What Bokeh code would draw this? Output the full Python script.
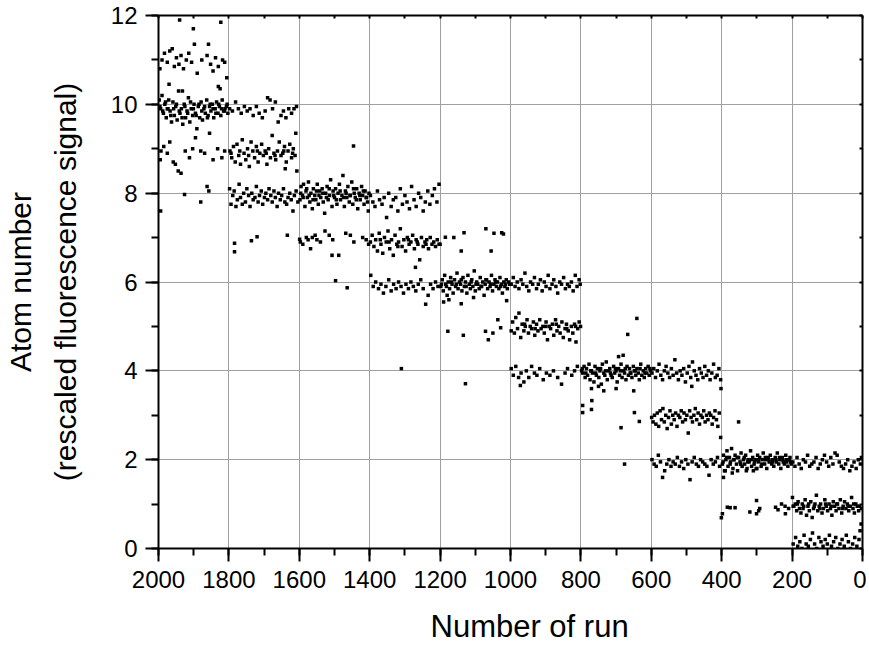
from bokeh.plotting import figure
from bokeh.models import Range1d, LinearAxis, SingleIntervalTicker, ColumnDataSource, Title
from bokeh.embed import file_html
from bokeh.resources import INLINE

# (run number, atom number), grouped by 200-run block and level
s1_main = [(1998,10.1),(1994,9.9),(1990,10.2),(1986,9.8),(1982,10.0),(1978,9.7),(1975,9.9),(1971,10.1),(1967,9.85),(1963,9.6),(1959,10.05),(1955,9.75),(1951,9.95),(1947,9.65),(1943,10.3),(1939,9.8),(1935,9.9),(1931,9.55),(1927,10.0),(1923,9.7),(1919,9.85),(1915,10.15),(1911,9.6),(1907,9.9),(1903,9.75),(1899,10.0),(1895,9.8),(1891,9.45),(1887,9.95),(1883,9.7),(1879,10.05),(1875,9.65),(1871,9.9),(1867,9.8),(1863,10.1),(1859,9.75),(1855,9.95),(1851,9.85),(1847,10.0),(1843,9.7),(1839,9.9),(1835,10.05),(1831,9.8),(1827,9.95),(1823,9.75),(1819,10.1),(1815,9.85),(1811,9.9),(1807,9.95),(1803,9.8),
           (1996,9.95),(1988,9.85),(1980,10.05),(1973,9.9),(1965,9.75),(1957,9.9),(1949,10.0),(1941,9.85),(1933,9.7),(1925,9.95),(1917,9.8),(1909,10.05),(1901,9.9),(1893,9.75),(1885,10.0),(1877,9.85),(1869,9.95),(1861,9.7),(1853,10.0),(1845,9.9),(1837,9.8),(1829,10.0),(1821,9.9),(1813,9.85),(1805,10.0)]
s1_upper = [(1996,10.8),(1990,11.0),(1983,11.15),(1975,10.95),(1968,11.2),(1961,11.25),(1955,10.85),(1949,11.05),(1942,10.9),(1936,11.1),(1929,10.8),(1921,11.0),(1914,11.15),(1906,10.95),(1898,11.35),(1890,10.7),(1877,11.0),(1862,11.1),(1852,10.9),(1845,10.75),(1838,11.05),(1830,10.85),(1818,11.0),(1812,10.95),(1806,10.6),(1940,11.9),(1901,11.7),(1823,11.85),(1858,11.35),(1970,10.45),(1932,10.3),(1830,10.4),(1825,10.35)]
s1_lower = [(1995,8.75),(1993,8.95),(1985,9.05),(1975,8.9),(1968,9.15),(1958,8.7),(1952,8.65),(1944,8.5),(1936,8.45),(1924,8.95),(1912,8.8),(1903,9.0),(1895,9.25),(1880,8.95),(1869,8.9),(1855,9.35),(1845,8.75),(1832,9.0),(1820,8.8),(1812,8.95),(1994,7.6),(1926,7.97),(1880,7.8),(1862,8.15),(1857,8.05)]

s2_top = [(1798,9.9),(1790,9.85),(1781,10.05),(1773,9.9),(1765,9.8),(1756,9.95),(1748,9.85),(1740,9.9),(1731,9.75),(1722,9.95),(1714,9.8),(1705,9.7),(1697,9.85),(1690,10.15),(1683,10.1),(1676,9.9),(1668,10.05),(1660,9.6),(1652,9.75),(1645,9.85),(1638,9.7),(1630,9.9),(1622,9.8),(1615,9.9),(1608,9.95)]
s2_mid = [(1797,8.95),(1792,8.8),(1787,9.05),(1782,8.7),(1777,9.1),(1772,8.85),(1767,8.65),(1762,9.2),(1757,8.9),(1752,8.75),(1747,9.0),(1742,8.6),(1737,9.15),(1732,8.95),(1727,8.8),(1722,9.05),(1717,8.7),(1712,8.9),(1707,9.1),(1702,8.85),(1697,8.95),(1692,8.65),(1687,9.0),(1682,8.8),(1677,9.3),(1672,8.9),(1667,8.75),(1662,8.95),(1657,9.15),(1652,8.85),(1647,8.9),(1642,9.05),(1637,8.7),(1632,8.95),(1627,9.1),(1622,8.8),(1617,9.0),(1612,8.85),(1607,8.5),(1794,8.9),(1769,8.95),(1744,8.85),(1719,8.95),(1694,8.9),(1669,8.85),(1644,8.95),(1619,8.9)]
s2_low = [(1798,8.1),(1794,7.75),(1789,7.95),(1785,8.05),(1780,7.7),(1776,7.85),(1771,8.2),(1767,7.9),(1762,7.75),(1758,8.0),(1753,7.8),(1749,8.1),(1744,7.95),(1740,7.7),(1735,8.0),(1731,7.85),(1726,7.9),(1722,8.15),(1717,7.8),(1713,7.95),(1708,8.05),(1704,7.75),(1699,7.9),(1695,8.0),(1690,7.85),(1686,8.1),(1681,7.95),(1677,7.8),(1672,8.05),(1668,7.9),(1663,7.7),(1659,8.0),(1654,7.85),(1650,7.95),(1645,8.1),(1641,7.8),(1636,7.75),(1632,7.9),(1627,8.0),(1623,7.85),(1618,7.6),(1614,7.95),(1609,8.05),(1604,7.8)]
s2_out = [(1784,6.87),(1784,6.68),(1736,6.93),(1720,7.02),(1634,7.05),(1599,6.96),(1640,8.55),(1610,9.35)]

s3_main = [(1598,7.85),(1595,8.15),(1591,7.95),(1588,8.2),(1584,7.7),(1581,8.05),(1577,7.9),(1574,8.25),(1570,7.8),(1567,8.0),(1563,7.65),(1560,8.1),(1556,7.95),(1553,7.85),(1549,8.2),(1546,7.75),(1542,8.05),(1539,7.9),(1535,8.1),(1532,7.8),(1528,7.55),(1525,8.0),(1521,8.15),(1518,7.85),(1514,7.95),(1511,8.3),(1507,7.7),(1504,8.05),(1500,7.9),(1497,8.1),(1493,7.75),(1490,8.0),(1486,8.2),(1483,7.85),(1479,7.95),(1476,8.4),(1472,7.7),(1469,8.05),(1465,7.9),(1462,8.15),(1458,7.8),(1455,7.95),(1451,8.25),(1448,7.75),(1444,8.0),(1441,7.9),(1437,8.1),(1434,7.65),(1430,8.0),(1427,7.85),(1423,8.15),(1420,7.95),(1416,7.75),(1413,8.05),(1409,7.9),(1406,7.8),(1402,8.0),
           (1596,8.0),(1589,7.9),(1579,8.1),(1572,7.95),(1561,7.85),(1551,8.05),(1544,7.95),(1533,8.0),(1523,7.9),(1515,8.1),(1502,7.95),(1495,7.85),(1484,8.05),(1474,7.9),(1467,8.0),(1456,7.95),(1446,8.1),(1438,7.85),(1428,7.95),(1418,8.05),(1410,7.9),(1404,7.6)]
s3_low = [(1597,6.9),(1590,6.85),(1580,7.0),(1575,6.95),(1568,6.75),(1563,7.0),(1555,7.05),(1550,6.95),(1540,6.9),(1527,7.15),(1515,7.05),(1505,6.95),(1488,6.6),(1468,7.1),(1455,7.05),(1445,6.9),(1420,7.0),(1410,6.95),(1403,6.85)]
s3_out = [(1446,9.06),(1507,6.6),(1497,6.03),(1464,5.87)]

s4_high = [(1398,7.95),(1391,7.8),(1385,7.7),(1378,8.05),(1372,7.85),(1365,7.75),(1359,7.9),(1352,7.45),(1346,8.0),(1339,7.7),(1333,7.85),(1326,7.9),(1320,7.6),(1313,8.1),(1307,7.75),(1300,7.95),(1294,7.8),(1287,7.65),(1281,8.15),(1274,7.85),(1268,7.7),(1261,8.0),(1255,7.9),(1248,7.6),(1242,7.8),(1235,8.05),(1229,7.75),(1222,7.95),(1216,8.1),(1209,7.8),(1203,8.2)]
s4_mid = [(1398,6.9),(1393,7.05),(1388,6.8),(1383,6.95),(1378,6.7),(1373,7.1),(1368,6.85),(1363,6.65),(1358,7.0),(1353,6.9),(1348,7.15),(1343,6.75),(1338,6.95),(1333,6.6),(1328,7.05),(1323,6.85),(1318,6.9),(1313,7.2),(1308,6.8),(1303,6.95),(1298,6.7),(1293,7.0),(1288,6.85),(1283,6.9),(1278,7.05),(1273,6.75),(1268,6.95),(1263,6.85),(1258,6.5),(1253,7.0),(1248,6.8),(1243,6.9),(1238,6.95),(1233,6.75),(1228,7.0),(1223,6.85),(1218,6.9),(1213,6.8),(1208,6.95),(1203,6.85),(1370,6.95),(1345,6.9),(1320,6.8),(1290,6.95),(1265,6.9),(1240,6.85),(1270,6.33)]
s4_low = [(1397,6.15),(1390,5.9),(1383,6.0),(1375,5.85),(1368,5.95),(1361,5.75),(1354,5.9),(1346,6.05),(1339,5.8),(1332,5.95),(1325,5.85),(1318,6.0),(1311,5.9),(1304,5.75),(1297,5.95),(1290,5.85),(1283,6.0),(1276,5.9),(1269,5.8),(1262,5.95),(1255,6.05),(1248,5.85),(1241,5.5),(1234,5.7),(1227,5.95),(1220,5.85),(1213,6.0),(1206,5.9),(1310,4.05)]

s5_main = [(1198,5.9),(1194,6.05),(1191,5.8),(1187,6.15),(1184,5.95),(1180,5.7),(1177,6.0),(1173,5.85),(1170,6.1),(1166,5.95),(1163,5.75),(1159,6.05),(1156,5.9),(1152,6.2),(1149,5.85),(1145,6.0),(1142,5.95),(1138,5.8),(1135,6.1),(1131,5.9),(1128,6.0),(1124,5.75),(1121,6.15),(1117,5.95),(1114,5.85),(1110,6.05),(1107,5.9),(1103,6.25),(1100,5.8),(1096,6.0),(1093,5.95),(1089,5.85),(1086,6.1),(1082,5.9),(1079,6.0),(1075,5.7),(1072,5.95),(1068,6.05),(1065,5.85),(1061,6.0),(1058,5.9),(1054,6.15),(1051,5.8),(1047,5.95),(1044,6.05),(1040,5.9),(1037,6.0),(1033,5.85),(1030,6.1),(1026,5.95),(1023,5.75),(1019,6.0),(1016,5.9),(1012,6.05),(1009,5.85),(1005,6.0),(1002,5.95),
           (1196,5.95),(1182,5.9),(1168,6.0),(1154,5.95),(1140,6.05),(1126,5.9),(1112,6.0),(1098,5.95),(1084,5.9),(1070,6.05),(1056,5.95),(1042,6.0),(1028,5.9),(1014,5.95),(1190,5.55),(1140,5.51),(1011,5.58),(1175,5.6),(1105,5.65)]
s5_out = [(1200,6.85),(1185,7.01),(1161,7.0),(1132,7.11),(1140,6.7),(1070,7.2),(1055,6.7),(1047,7.1),(1025,7.11),(1020,7.08),(1178,4.89),(1134,4.8),(1071,4.89),(1063,4.7),(1050,4.85),(1036,5.15),(1028,4.97),(1128,3.71)]

s6_high = [(998,5.95),(992,6.1),(987,5.9),(981,6.0),(976,5.85),(970,6.05),(965,5.95),(959,6.2),(954,5.9),(948,5.8),(943,6.0),(937,5.95),(932,6.1),(926,5.85),(921,5.95),(915,6.05),(910,5.8),(904,6.0),(899,5.9),(893,6.15),(888,5.85),(882,5.95),(877,6.05),(871,5.9),(866,5.75),(860,6.0),(855,5.95),(849,6.1),(844,5.85),(838,5.95),(833,5.9),(827,6.0),(822,5.8),(816,6.15),(811,5.9),(805,6.05),(802,5.95)]
s6_mid = [(998,4.9),(994,5.1),(989,4.85),(985,5.2),(980,4.95),(976,5.3),(971,4.75),(967,5.05),(962,4.9),(958,5.0),(953,5.15),(949,4.85),(944,5.0),(940,4.95),(935,5.1),(931,4.8),(926,5.05),(922,4.9),(917,5.15),(913,4.95),(908,5.0),(904,4.85),(899,5.1),(895,4.7),(890,5.0),(886,4.95),(881,5.05),(877,4.8),(872,5.15),(868,4.9),(863,5.0),(859,4.85),(854,5.1),(850,4.75),(845,4.95),(841,5.05),(836,4.9),(832,4.7),(827,5.0),(823,4.85),(818,5.05),(814,4.65),(809,4.95),(805,5.1),(801,5.0),
           (960,5.05),(930,4.95),(900,5.0),(870,5.05),(840,4.95),(815,5.0)]
s6_low = [(998,4.05),(992,3.9),(985,4.1),(977,3.85),(970,3.95),(962,3.75),(955,4.0),(948,3.85),(940,4.1),(932,3.95),(925,3.9),(917,4.05),(907,3.8),(898,3.95),(888,3.9),(878,4.0),(866,3.85),(855,3.7),(845,3.95),(838,4.05),(826,3.9),(818,4.0),(810,4.1),(972,3.67)]

s7_main = [(798,4.0),(795,3.95),(791,4.1),(788,3.85),(784,4.05),(781,3.9),(777,4.15),(774,3.8),(770,4.0),(767,3.95),(763,3.75),(760,4.1),(756,3.9),(753,4.05),(749,3.85),(746,4.0),(742,3.7),(739,4.15),(735,3.95),(732,3.9),(728,4.2),(725,3.8),(721,4.0),(718,4.05),(714,3.9),(711,3.85),(707,4.1),(704,3.95),(700,4.0),(697,3.75),(693,4.05),(690,3.9),(686,4.15),(683,3.85),(679,4.0),(676,3.95),(672,3.8),(669,4.1),(665,3.9),(662,4.05),(658,3.95),(655,3.85),(651,4.1),(648,4.0),(644,3.9),(641,4.05),(637,3.95),(634,3.8),(630,4.15),(627,3.9),(623,4.0),(620,3.85),(616,4.05),(613,3.95),(609,4.1),(606,3.9),(602,4.0),
           (796,4.05),(786,3.95),(772,4.0),(758,3.95),(744,4.05),(730,4.0),(716,3.95),(702,4.05),(688,4.0),(674,4.05),(660,3.95),(646,4.0),(632,4.05),(618,3.95),(604,4.05),
           (770,3.6),(750,3.65),(735,3.55),(700,3.6),(650,3.55),(680,4.35)]
s7_out = [(795,3.22),(795,3.06),(769,3.33),(770,3.13),(693,4.32),(667,4.82),(641,5.18),(686,2.72),(676,1.9),(648,3.06),(634,2.86)]

s8_high = [(598,3.95),(593,4.05),(588,3.85),(583,4.0),(578,4.15),(573,3.9),(568,3.8),(563,4.0),(558,4.1),(553,3.95),(548,3.85),(543,4.05),(538,3.9),(533,4.25),(528,3.95),(523,3.8),(518,4.0),(513,3.9),(508,4.05),(503,3.75),(498,3.95),(493,4.1),(488,3.85),(483,4.2),(478,4.0),(473,3.9),(468,3.8),(463,4.05),(458,3.95),(453,3.85),(448,4.1),(443,3.9),(438,4.0),(433,3.8),(428,3.95),(423,4.15),(418,3.85),(413,3.9),(408,4.05),(403,3.8),(402,3.6),(485,3.65)]
s8_mid = [(599,2.95),(595,2.85),(591,3.0),(587,2.8),(583,3.05),(579,2.75),(575,3.1),(571,2.9),(567,3.15),(563,2.85),(559,3.0),(555,2.7),(551,2.95),(547,3.1),(543,2.8),(539,3.0),(535,2.9),(531,3.05),(527,2.75),(523,3.0),(519,2.95),(515,3.1),(511,2.85),(507,3.05),(503,2.9),(499,3.0),(495,2.6),(491,3.1),(487,2.95),(483,2.85),(479,3.0),(475,3.15),(471,2.9),(467,3.05),(463,2.8),(459,3.0),(455,2.95),(451,3.1),(447,2.85),(443,3.0),(439,2.9),(435,3.05),(431,3.0),(427,2.8),(423,2.95),(419,3.1),(415,2.9),(411,2.75),(407,3.05),(403,2.5),(352,2.85)]
s8_low = [(598,2.0),(592,1.9),(586,1.85),(580,2.1),(574,1.95),(568,1.6),(562,1.75),(556,1.9),(550,2.0),(544,1.85),(538,1.95),(532,1.9),(526,2.05),(520,1.85),(514,1.95),(508,1.8),(502,2.0),(496,1.9),(490,1.55),(484,1.95),(478,2.05),(472,1.9),(466,1.85),(460,2.0),(454,1.95),(448,1.9),(442,1.85),(436,1.65),(430,2.0),(424,1.9),(418,1.95),(412,2.05),(406,1.85)]

s9_main = [(398,1.9),(395,2.1),(392,1.75),(388,2.0),(385,2.2),(382,1.85),(378,2.05),(375,1.95),(372,2.25),(368,1.8),(365,2.0),(362,2.1),(358,1.9),(355,1.75),(352,2.05),(348,1.95),(345,2.15),(342,1.85),(338,2.0),(335,1.9),(332,2.1),(328,1.8),(325,2.0),(322,1.95),(318,2.2),(315,1.85),(312,2.05),(308,1.9),(305,2.0),(302,1.8),(298,2.1),(295,1.95),(292,2.05),(288,1.85),(285,2.0),(282,2.15),(278,1.9),(275,2.0),(272,1.8),(268,2.05),(265,1.95),(262,2.1),(258,1.9),(255,2.0),(252,1.85),(248,2.05),(245,1.95),(242,2.15),(238,1.9),(235,2.0),(232,1.8),(228,2.05),(225,1.95),(222,1.9),(218,2.1),(215,2.0),(212,1.85),(208,2.0),(205,1.95),(202,1.9),
           (396,1.95),(386,2.05),(376,1.9),(366,2.0),(356,2.05),(346,1.9),(336,2.05),(326,1.95),(316,2.0),(306,1.95),(296,2.0),(286,1.9),(276,2.05),(266,2.0),(256,1.95),(246,2.0),(236,2.05),(226,2.0),(216,1.95),(206,2.05),
           (395,1.6),(390,1.75),(370,1.7),(330,1.75),(310,1.75),(300,1.8)]
s9_low = [(401,0.69),(398,0.78),(384,0.93),(376,0.92),(362,0.92),(320,0.82),(301,1.08),(301,0.78),(292,0.9),(295,0.85),(247,0.93),(240,0.87),(219,0.78),(220,0.95),(230,1.0),(210,0.9)]

s10_high = [(198,1.95),(192,1.85),(186,2.05),(180,1.9),(174,1.8),(168,2.0),(162,1.95),(156,2.1),(150,1.85),(144,1.9),(138,1.95),(132,2.05),(126,1.8),(120,1.9),(114,2.0),(108,2.1),(102,1.95),(96,1.85),(90,2.05),(84,1.9),(78,2.15),(72,2.1),(66,1.95),(60,1.85),(54,1.8),(48,1.9),(42,2.0),(36,1.75),(30,1.85),(24,1.95),(18,1.8),(12,2.0),(6,1.9),(3,2.05)]
s10_mid = [(199,1.15),(195,0.95),(191,1.0),(187,0.85),(183,1.05),(179,0.9),(175,0.8),(171,1.0),(167,0.95),(163,1.1),(159,0.75),(155,0.95),(151,0.85),(147,1.05),(143,0.7),(139,0.9),(135,1.0),(131,1.2),(127,0.85),(123,0.95),(119,1.0),(115,0.8),(111,0.9),(107,1.1),(103,0.95),(99,0.85),(95,1.0),(91,0.9),(87,0.75),(83,1.05),(79,0.95),(75,0.85),(71,1.0),(67,0.9),(63,1.1),(59,0.8),(55,0.95),(51,1.05),(47,0.9),(43,1.0),(39,0.85),(35,0.95),(31,1.15),(27,0.9),(23,0.8),(19,1.0),(15,0.95),(11,0.85),(7,0.4),(3,0.9),
           (197,0.95),(185,1.0),(169,0.9),(153,1.0),(137,0.95),(121,0.9),(105,1.0),(89,0.95),(73,1.0),(57,0.9),(41,0.95),(25,1.0),(9,0.95)]
s10_low = [(197,0.1),(190,0.25),(184,0.05),(178,0.15),(172,0.0),(166,0.3),(160,0.1),(154,0.05),(148,0.2),(142,0.35),(136,0.1),(130,0.0),(124,0.25),(118,0.15),(112,0.05),(106,0.2),(100,0.1),(94,0.3),(88,0.05),(82,0.15),(76,0.25),(70,0.0),(64,0.1),(58,0.2),(52,0.05),(46,0.3),(40,0.15),(34,0.0),(28,0.1),(22,0.25),(16,0.05),(10,0.2),(4,0.55)]

clusters = [s1_main, s1_upper, s1_lower, s2_top, s2_mid, s2_low, s2_out, s3_main, s3_low, s3_out,
            s4_high, s4_mid, s4_low, s5_main, s5_out, s6_high, s6_mid, s6_low, s7_main, s7_out,
            s8_high, s8_mid, s8_low, s9_main, s9_low, s10_high, s10_mid, s10_low]
runs = [r for c in clusters for r, a in c]
atoms = [a for c in clusters for r, a in c]
source = ColumnDataSource(data=dict(run=runs, atoms=atoms))

FONT = "Liberation Sans"

p = figure(width=866, height=660, x_range=Range1d(2000, 0), y_range=Range1d(0, 12),
           output_backend="svg", toolbar_location=None,
           min_border_left=158, min_border_right=4, min_border_top=15, min_border_bottom=112)
p.outline_line_color = None
p.background_fill_color = "white"
p.border_fill_color = "white"

xt = SingleIntervalTicker(interval=200, num_minor_ticks=2)
yt = SingleIntervalTicker(interval=2, num_minor_ticks=2)
xa = p.below[0]
ya = p.left[0]
xa.ticker = xt
ya.ticker = yt
p.xgrid.ticker = xt
p.ygrid.ticker = yt
for g in (p.xgrid, p.ygrid):
    g.grid_line_color = "#a0a0a0"
    g.grid_line_width = 1

for ax in (xa, ya):
    ax.axis_line_width = 2
    ax.axis_line_color = "black"
    ax.major_tick_line_width = 2
    ax.minor_tick_line_width = 2
    ax.major_tick_out = 13
    ax.major_tick_in = 0
    ax.minor_tick_out = 7
    ax.minor_tick_in = 0
    ax.major_label_text_font = FONT
    ax.major_label_text_font_size = "24px"
    ax.major_label_text_color = "black"
    ax.axis_label_text_font = FONT
    ax.axis_label_text_font_size = "30px"
    ax.axis_label_text_font_style = "normal"
    ax.axis_label_text_color = "black"

xa.major_label_standoff = 9
ya.major_label_standoff = 8
ya.axis_label = "Atom number\n(rescaled fluorescence signal)"
ya.axis_label_standoff = 26
ya.axis_label_text_line_height = 1.35

top = LinearAxis(ticker=SingleIntervalTicker(interval=100, num_minor_ticks=0))
right = LinearAxis(ticker=SingleIntervalTicker(interval=1, num_minor_ticks=0))
for ax in (top, right):
    ax.axis_line_width = 2
    ax.axis_line_color = "black"
    ax.major_tick_line_width = 2
    ax.major_tick_in = 3
    ax.major_tick_out = 0
    ax.minor_tick_in = 0
    ax.minor_tick_out = 0
    ax.major_label_text_font_size = "1px"
    ax.major_label_text_color = None
    ax.major_label_standoff = 0
p.add_layout(top, "above")
p.add_layout(right, "right")

p.scatter("run", "atoms", source=source, marker="square", size=3.5,
          fill_color="black", line_color="black", line_width=0)

xtitle = Title(text="Number of run", align="left", offset=272, standoff=33,
               vertical_align="bottom",
               text_font=FONT, text_font_size="31px", text_font_style="normal",
               text_color="black")
p.add_layout(xtitle, "below")

open("out.html", "w").write(file_html(p, INLINE))
